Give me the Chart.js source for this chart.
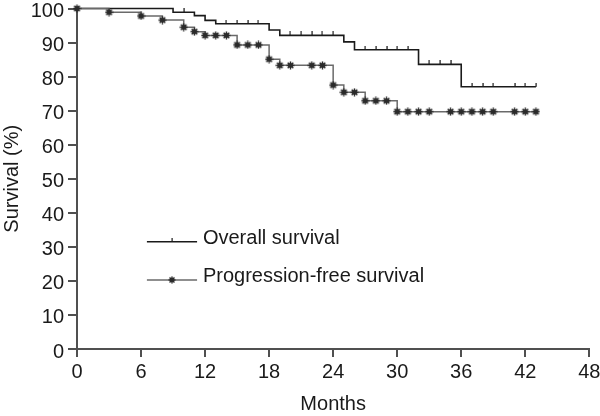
<!DOCTYPE html>
<html>
<head>
<meta charset="utf-8">
<script src="https://cdn.jsdelivr.net/npm/chart.js@4.4.1/dist/chart.umd.min.js"></script>
<style>
  html, body { margin: 0; padding: 0; background: #fff; }
  #wrap { width: 600px; height: 416px; }
</style>
</head>
<body>
<div id="wrap"><canvas id="kmChart"></canvas></div>
<script>
// overall survival, step points (month, %); 1 = censored (tick mark)
const osMonths   = [0, 9, 10, 11, 12, 13, 14, 15, 16, 17, 18, 19, 20, 21, 22, 23, 24, 25, 26, 27, 28, 29, 30, 31, 32, 33, 34, 35, 36, 37, 38, 39, 41, 42, 43];
const osSurvival = [100, 98.9, 98.9, 97.9, 96.5, 95.5, 95.5, 95.5, 95.5, 95.5, 93.7, 92.1, 92.1, 92.1, 92.1, 92.1, 92.1, 90.2, 87.9, 87.9, 87.9, 87.9, 87.9, 87.9, 83.6, 83.6, 83.6, 83.6, 77.0, 77.0, 77.0, 77.0, 77.0, 77.0, 77.0];
const osCensored = [0, 0, 1, 0, 0, 0, 1, 1, 1, 1, 0, 0, 1, 1, 1, 1, 1, 0, 0, 1, 1, 1, 1, 1, 0, 1, 1, 1, 0, 1, 1, 1, 1, 1, 1];

// progression-free survival, every point has a star marker
const pfsMonths   = [0, 3, 6, 8, 10, 11, 12, 13, 14, 15, 16, 17, 18, 19, 20, 22, 23, 24, 25, 26, 27, 28, 29, 30, 31, 32, 33, 35, 36, 37, 38, 39, 41, 42, 43];
const pfsSurvival = [100, 98.9, 97.8, 96.6, 94.5, 93.2, 92.1, 92.1, 92.1, 89.3, 89.3, 89.3, 85.1, 83.3, 83.3, 83.3, 83.3, 77.5, 75.4, 75.4, 72.9, 72.9, 72.9, 69.7, 69.7, 69.7, 69.7, 69.7, 69.7, 69.7, 69.7, 69.7, 69.7, 69.7, 69.7];

const xTicks = [0, 6, 12, 18, 24, 30, 36, 42, 48];
const yTicks = [0, 10, 20, 30, 40, 50, 60, 70, 80, 90, 100];
const legendLabels = ['Overall survival', 'Progression-free survival'];

const textColor = '#1a1a1a';
const axisColor = '#505050';
const fontFamily = '"Liberation Sans", Arial, Helvetica, sans-serif';

// little upward tick for censored OS points
function makeTick() {
    const c = document.createElement('canvas');
    c.width = 2; c.height = 8;
    const g = c.getContext('2d');
    g.fillStyle = '#1a1a1a';
    g.fillRect(0.5, 0, 1.2, 4);
    return c;
}

// asterisk marker with a dark centre
function makeStar(size, core) {
    const c = document.createElement('canvas');
    c.width = size; c.height = size;
    const g = c.getContext('2d');
    const m = size / 2, r = size / 2 - 0.5;
    g.strokeStyle = '#2a2a2a';
    g.lineWidth = 1.4;
    g.beginPath();
    for (let i = 0; i < 4; i++) {
        const a = i * Math.PI / 4;
        g.moveTo(m - r * Math.cos(a), m - r * Math.sin(a));
        g.lineTo(m + r * Math.cos(a), m + r * Math.sin(a));
    }
    g.stroke();
    g.fillStyle = '#2a2a2a';
    g.fillRect(m - core / 2, m - core / 2, core, core);
    return c;
}

const tickImg = makeTick();
const starImg = makeStar(9, 4.4);
const starSmall = makeStar(8, 2.5);

const legendPlugin = {
    id: 'kmLegend',
    afterDatasetsDraw(chart) {
        const { ctx, scales: { x, y } } = chart;
        const x0 = x.getPixelForValue(6.55), x1 = x.getPixelForValue(11.25);
        const xm = (x0 + x1) / 2;
        const tx = x.getPixelForValue(11.8);
        const rows = [31.5, 20.3];
        ctx.save();
        rows.forEach((v, i) => {
            const py = y.getPixelForValue(v);
            ctx.beginPath();
            ctx.moveTo(x0, py);
            ctx.lineTo(x1, py);
            ctx.lineWidth = i === 0 ? 1.6 : 1.5;
            ctx.strokeStyle = i === 0 ? '#1a1a1a' : '#6a6a6a';
            ctx.stroke();
            if (i === 0) {
                ctx.drawImage(tickImg, xm - 1, py - 4);
            } else {
                ctx.drawImage(starSmall, xm - 4, py - 4);
            }
            ctx.fillStyle = textColor;
            ctx.font = '20px ' + fontFamily;
            ctx.textBaseline = 'alphabetic';
            ctx.textAlign = 'left';
            ctx.fillText(legendLabels[i], tx, py + 2);
        });
        ctx.restore();
    }
};

new Chart(document.getElementById('kmChart'), {
    type: 'line',
    data: {
        datasets: [
            {
                label: legendLabels[1],
                data: pfsMonths.map((m, i) => ({ x: m, y: pfsSurvival[i] })),
                stepped: true,
                borderColor: '#6a6a6a',
                borderWidth: 1.5,
                pointStyle: starImg,
                pointRadius: 4,
                clip: false
            },
            {
                label: legendLabels[0],
                data: osMonths.map((m, i) => ({ x: m, y: osSurvival[i] })),
                stepped: true,
                borderColor: '#1a1a1a',
                borderWidth: 1.6,
                pointStyle: tickImg,
                pointRadius: osCensored.map(c => c ? 3 : 0),
                clip: false
            }
        ]
    },
    options: {
        responsive: true,
        maintainAspectRatio: false,
        animation: false,
        events: [],
        layout: { padding: 0 },
        plugins: {
            legend: { display: false },
            tooltip: { enabled: false }
        },
        scales: {
            x: {
                type: 'linear',
                min: 0,
                max: 48,
                afterBuildTicks: s => { s.ticks = xTicks.map(v => ({ value: v })); },
                afterFit: s => { s.height = 67; s.paddingRight = 10.7; },
                grid: { drawOnChartArea: false, drawTicks: true, tickLength: 8, color: axisColor, lineWidth: 2 },
                border: { display: true, color: axisColor, width: 2 },
                ticks: { color: textColor, font: { family: fontFamily, size: 20 }, padding: 3, maxRotation: 0, autoSkip: false },
                title: { display: true, text: 'Months', color: textColor, font: { family: fontFamily, size: 20 }, padding: { top: 2, bottom: 0 } }
            },
            y: {
                min: 0,
                max: 100,
                afterBuildTicks: s => { s.ticks = yTicks.map(v => ({ value: v })); },
                afterFit: s => { s.width = 77; s.paddingTop = 8.5; s.paddingBottom = 0; },
                grid: { drawOnChartArea: false, drawTicks: true, tickLength: 9, color: axisColor, lineWidth: 2 },
                border: { display: true, color: axisColor, width: 2 },
                ticks: { color: textColor, font: { family: fontFamily, size: 20 }, padding: 4, labelOffset: 3, autoSkip: false },
                title: { display: true, text: 'Survival (%)', color: textColor, font: { family: fontFamily, size: 20 }, padding: 0 }
            }
        }
    },
    plugins: [legendPlugin]
});
</script>
</body>
</html>
